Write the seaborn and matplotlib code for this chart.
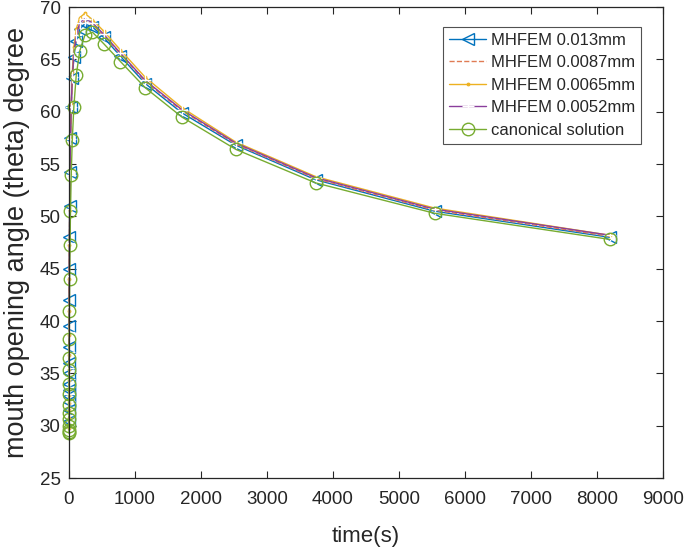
import matplotlib
matplotlib.use("Agg")
import matplotlib.pyplot as plt
import seaborn as sns
import numpy as np

# time steps (s)
time_s = [0, 0.1, 0.15, 0.22, 0.32, 0.47, 0.7, 1.0, 1.5, 2.2, 3.2, 4.8, 7.1, 10.5,
          15.5, 23, 34, 50, 74, 110, 163, 240, 356, 527, 780, 1155, 1710, 2530,
          3740, 5540, 8200]

theta_013 = [30.5, 31.5, 32.3, 32.8, 33.4, 34.0, 35.0, 36.0, 37.5, 39.5, 42.0, 45.0,
             48.0, 51.0, 54.2, 57.5, 60.5, 63.2, 65.2, 66.8, 67.9, 68.4, 68.1, 67.1,
             65.3, 62.7, 59.9, 56.8, 53.5, 50.5, 48.0]
theta_0087 = [30.0, 31.0, 31.8, 32.4, 33.0, 33.7, 34.6, 35.6, 37.0, 39.0, 41.5, 44.5,
              47.5, 50.6, 53.8, 57.0, 60.2, 63.0, 65.3, 67.0, 68.2, 68.7, 68.3, 67.3,
              65.5, 62.9, 60.1, 56.9, 53.6, 50.6, 48.1]
theta_0065 = [29.8, 30.7, 31.5, 32.2, 32.9, 33.6, 34.4, 35.4, 36.8, 38.7, 41.0, 44.0,
              47.3, 50.6, 54.0, 57.5, 60.8, 63.8, 66.2, 67.9, 69.0, 69.4, 68.8, 67.7,
              65.9, 63.3, 60.4, 57.1, 53.8, 50.8, 48.2]
theta_0052 = [30.0, 31.0, 31.8, 32.4, 33.0, 33.7, 34.5, 35.5, 37.0, 39.0, 41.3, 44.3,
              47.5, 50.7, 54.0, 57.4, 60.5, 63.3, 65.6, 67.3, 68.5, 68.9, 68.5, 67.4,
              65.6, 63.0, 60.2, 57.0, 53.7, 50.7, 48.2]
theta_canon = [29.3, 29.4, 29.6, 30.0, 30.6, 31.2, 32.0, 33.0, 34.0, 35.3, 36.5, 38.3,
               41.0, 44.0, 47.3, 50.5, 54.0, 57.3, 60.5, 63.5, 65.8, 67.3, 67.6, 66.5,
               64.8, 62.3, 59.5, 56.4, 53.2, 50.3, 47.8]

labels = ["MHFEM 0.013mm", "MHFEM 0.0087mm", "MHFEM 0.0065mm",
          "MHFEM 0.0052mm", "canonical solution"]

sns.set_style("ticks")
plt.rcParams["font.family"] = ["Liberation Sans", "DejaVu Sans"]

fig = plt.figure(figsize=(6.85, 5.47), dpi=100)
ax = fig.add_axes([0.1007, 0.126, 0.8671, 0.861])

sns.lineplot(x=time_s, y=theta_013, ax=ax, color="#0072BD", marker="<",
             markersize=9, markerfacecolor="none", markeredgecolor="#0072BD",
             markeredgewidth=1.0, linewidth=1.0, label=labels[0], sort=False,
             clip_on=False)
sns.lineplot(x=time_s, y=theta_0087, ax=ax, color="#E07B54", linestyle="--",
             linewidth=1.0, label=labels[1], sort=False, clip_on=False)
sns.lineplot(x=time_s, y=theta_0065, ax=ax, color="#EDB120", marker=".",
             markersize=4, markeredgecolor="#EDB120", linewidth=1.0,
             label=labels[2], sort=False, clip_on=False)
sns.lineplot(x=time_s, y=theta_0052, ax=ax, color="#8A3E9C", marker="+",
             markersize=9, markeredgewidth=1.0, linewidth=1.0,
             label=labels[3], sort=False, clip_on=False)
sns.lineplot(x=time_s, y=theta_canon, ax=ax, color="#77AC30", marker="o",
             markersize=9, markerfacecolor="none", markeredgecolor="#77AC30",
             markeredgewidth=1.0, linewidth=1.0, label=labels[4], sort=False,
             clip_on=False)

ax.set_xlim(0, 9000)
ax.set_ylim(25, 70)
ax.set_xticks(np.arange(0, 9001, 1000))
ax.set_yticks(np.arange(25, 71, 5))
ax.tick_params(direction="in", top=True, right=True, labelsize=13.5,
               length=5, width=0.8, colors="#262626")
ax.tick_params(axis="x", pad=9)
ax.tick_params(axis="y", pad=6)
for s in ax.spines.values():
    s.set_visible(True)
    s.set_color("#262626")
    s.set_linewidth(0.9)

ax.set_xlabel("time(s)", fontsize=16, labelpad=13)
ax.set_ylabel("mouth opening angle (theta) degree", fontsize=19.5, labelpad=7)

leg = ax.legend(loc="upper right", bbox_to_anchor=(0.963, 0.958), borderaxespad=0,
                fontsize=12, frameon=True, fancybox=False, handlelength=2.2,
                labelspacing=0.45, borderpad=0.35, handletextpad=0.3)
leg.get_frame().set_edgecolor("#262626")
leg.get_frame().set_linewidth(0.8)

fig.savefig("out.png", dpi=100)
